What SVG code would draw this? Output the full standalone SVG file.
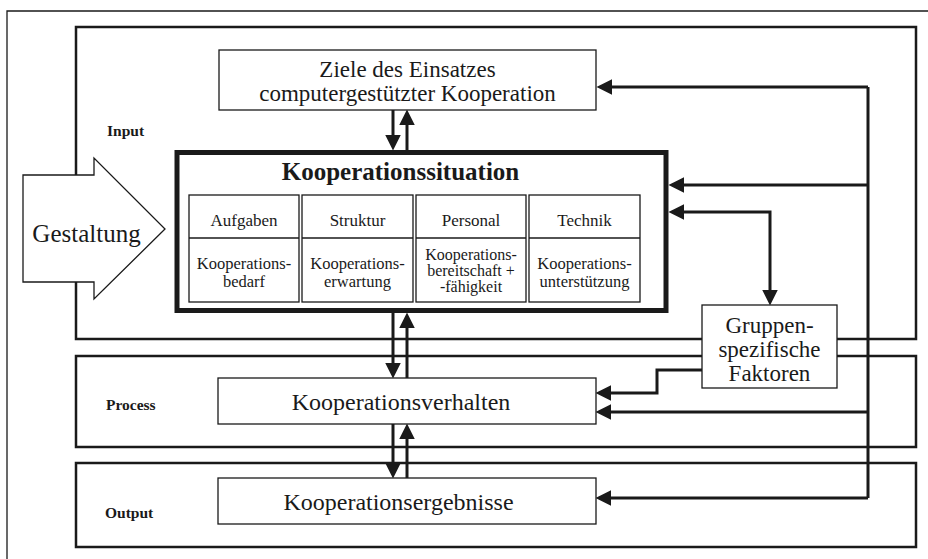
<svg xmlns="http://www.w3.org/2000/svg" width="928" height="559" viewBox="0 0 928 559">
<defs>
<style>
.frame{fill:none;stroke:#1a1a1a;stroke-width:2.5}
.outer{fill:none;stroke:#1a1a1a;stroke-width:1.3}
.box{fill:#fff;stroke:#1a1a1a;stroke-width:1.3}
.thick{fill:#fff;stroke:#1a1a1a;stroke-width:5}
.conn{fill:none;stroke:#1a1a1a;stroke-width:3}
.t{font-family:"Liberation Serif","Times New Roman",serif;fill:#1a1a1a;text-anchor:middle}
.big{font-size:24px}
.multi{font-size:23px}
.cell{font-size:17px}
.cellb{font-size:16.5px}
.cell3{font-size:16px}
.title{font-size:25px;font-weight:bold}
.lbl{font-family:"Liberation Serif","Times New Roman",serif;font-size:15.5px;font-weight:bold;fill:#1a1a1a}
</style>
<marker id="ah" markerUnits="userSpaceOnUse" markerWidth="16" markerHeight="16" viewBox="0 0 15 15" refX="7" refY="7.5" orient="auto-start-reverse">
<path d="M0,0 L15,7.5 L0,15 z" fill="#1a1a1a"/>
</marker>
</defs>

<g id="outer-frame">
<path class="outer" d="M7,559 L7,11 L928,11"/>
</g>

<g id="frame-input">
<path class="frame" d="M702,339 L76,339 L76,27 L916,27 L916,339 L837,339"/>
<text class="lbl" x="107" y="136">Input</text>
</g>
<g id="frame-process">
<path class="frame" d="M702,356 L76,356 L76,447 L916,447 L916,356 L837,356"/>
<text class="lbl" x="106" y="410">Process</text>
</g>
<g id="frame-output">
<rect class="frame" x="76" y="463" width="840" height="84"/>
<text class="lbl" x="105" y="518">Output</text>
</g>

<g id="connectors">
<path class="conn" d="M393,110 L393,142" marker-end="url(#ah)"/>
<path class="conn" d="M407,150 L407,118" marker-end="url(#ah)"/>
<path class="conn" d="M393,313 L393,370" marker-end="url(#ah)"/>
<path class="conn" d="M407,378 L407,321" marker-end="url(#ah)"/>
<path class="conn" d="M393,424 L393,470" marker-end="url(#ah)"/>
<path class="conn" d="M407,478 L407,432" marker-end="url(#ah)"/>
<path class="conn" d="M868,87 L868,498"/>
<path class="conn" d="M868,87 L605,87" marker-end="url(#ah)"/>
<path class="conn" d="M868,185 L677,185" marker-end="url(#ah)"/>
<path class="conn" d="M677,212 L770,212 L770,297" marker-start="url(#ah)" marker-end="url(#ah)"/>
<path class="conn" d="M702,370 L657,370 L657,393 L604,393" marker-end="url(#ah)"/>
<path class="conn" d="M868,412 L604,412" marker-end="url(#ah)"/>
<path class="conn" d="M868,498 L604,498" marker-end="url(#ah)"/>
</g>

<g id="gestaltung">
<polygon class="box" points="23,175 94,175 94,158 165,229 94,299 94,282 23,282"/>
<text class="t" style="font-size:25px" x="86.5" y="242">Gestaltung</text>
</g>

<g id="ziele">
<rect class="box" x="219" y="50" width="377" height="60"/>
<text class="t multi" x="407.5" y="77">Ziele des Einsatzes</text>
<text class="t multi" x="407.5" y="101">computergestützter Kooperation</text>
</g>

<g id="kooperationssituation">
<rect class="thick" x="177" y="152.5" width="489" height="158"/>
<text class="t title" x="400.5" y="180">Kooperationssituation</text>
</g>

<g id="cell-aufgaben">
<rect class="box" x="189" y="195" width="110" height="107"/>
<line class="box" x1="189" y1="238" x2="299" y2="238"/>
<text class="t cell" x="244" y="226">Aufgaben</text>
<text class="t cellb" x="244" y="269">Kooperations-</text>
<text class="t cellb" x="244" y="287">bedarf</text>
</g>
<g id="cell-struktur">
<rect class="box" x="302" y="195" width="111" height="107"/>
<line class="box" x1="302" y1="238" x2="413" y2="238"/>
<text class="t cell" x="357.5" y="226">Struktur</text>
<text class="t cellb" x="357.5" y="269">Kooperations-</text>
<text class="t cellb" x="357.5" y="287">erwartung</text>
</g>
<g id="cell-personal">
<rect class="box" x="416" y="195" width="110" height="107"/>
<line class="box" x1="416" y1="238" x2="526" y2="238"/>
<text class="t cell" x="471" y="226">Personal</text>
<text class="t cell3" x="471" y="260">Kooperations-</text>
<text class="t cell3" x="471" y="276">bereitschaft +</text>
<text class="t cell3" x="471" y="292">-fähigkeit</text>
</g>
<g id="cell-technik">
<rect class="box" x="529" y="195" width="111" height="107"/>
<line class="box" x1="529" y1="238" x2="640" y2="238"/>
<text class="t cell" x="584.5" y="226">Technik</text>
<text class="t cellb" x="584.5" y="269">Kooperations-</text>
<text class="t cellb" x="584.5" y="287">unterstützung</text>
</g>

<g id="gruppen">
<rect class="box" x="702" y="305" width="135" height="83"/>
<text class="t multi" x="769.5" y="333">Gruppen-</text>
<text class="t multi" x="769.5" y="357">spezifische</text>
<text class="t multi" x="769.5" y="381">Faktoren</text>
</g>

<g id="verhalten">
<rect class="box" x="218" y="378" width="378" height="46"/>
<text class="t big" x="401" y="410">Kooperationsverhalten</text>
</g>

<g id="ergebnisse">
<rect class="box" x="218" y="478" width="378" height="46"/>
<text class="t big" x="398.5" y="510">Kooperationsergebnisse</text>
</g>
</svg>
